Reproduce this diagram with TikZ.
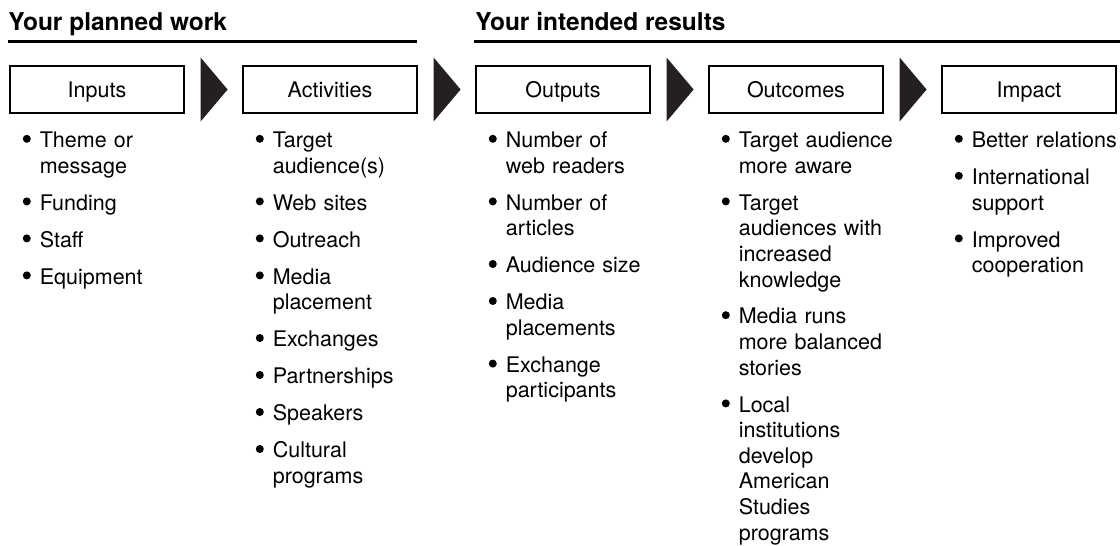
\documentclass[tikz,border=0pt]{standalone}
\usepackage{fontspec}
\setmainfont{TeX Gyre Heros}
\usetikzlibrary{calc}
\definecolor{ChevronClr}{rgb}{0.14,0.12,0.13}

\newcommand\bul[1]{\noindent\llap{\tikz[baseline=0pt]\fill (0pt,4.4pt) circle[radius=2pt];\hspace{4.5pt}}#1\par\vspace{5.7pt}}

\begin{document}
\begin{tikzpicture}[x=0.5pt,y=-0.5pt,
  stage/.style={draw,line width=0.6pt,minimum width=87pt,minimum height=23.5pt,
    inner sep=0pt,text height=7.7pt,text depth=0pt,font=\fontsize{10.75}{12.8}\selectfont},
  list/.style={anchor=base west,inner sep=0pt,text width=80pt,align=left,
    font=\fontsize{10.75}{12.8}\selectfont},
  head/.style={anchor=base west,inner sep=0pt,font=\fontsize{12.25}{14}\selectfont\bfseries},
  rule/.style={line width=1.5pt},
  chevron/.style={fill=ChevronClr}]
\useasboundingbox (0,0) rectangle (1120,546);

\node[head] (Work) at (8,31) {Your planned work};
\node[head] (Res) at (475,31) {Your intended results};
\coordinate (W1) at (8,41.5);   \coordinate (W2) at (417,41.5);
\coordinate (R1) at (474,41.5); \coordinate (R2) at (1120,41.5);
\draw[rule] (W1) -- (W2);
\draw[rule] (R1) -- (R2);

\node[stage] (In) at (97,89.5) {Inputs};
\node[stage] (Ac) at (330,89.5) {Activities};
\node[stage] (Op) at (563,89.5) {Outputs};
\node[stage] (Oc) at (796,89.5) {Outcomes};
\node[stage] (Im) at (1029,89.5) {Impact};

\fill[chevron] ($(In.east)+(16,-32)$) -- ($(In.east)+(16,32)$) -- ($(In.east)+(43,0)$) -- cycle;
\fill[chevron] ($(Ac.east)+(16,-32)$) -- ($(Ac.east)+(16,32)$) -- ($(Ac.east)+(43,0)$) -- cycle;
\fill[chevron] ($(Op.east)+(16,-32)$) -- ($(Op.east)+(16,32)$) -- ($(Op.east)+(43,0)$) -- cycle;
\fill[chevron] ($(Oc.east)+(16,-32)$) -- ($(Oc.east)+(16,32)$) -- ($(Oc.east)+(43,0)$) -- cycle;

\node[list] (InL) at ($(In.south west)+(30,34)$) {%
  \bul{Theme or\\message}
  \bul{Funding}
  \bul{Staff}
  \bul{Equipment}};
\node[list] (AcL) at ($(Ac.south west)+(30,34)$) {%
  \bul{Target\\audience(s)}
  \bul{Web sites}
  \bul{Outreach}
  \bul{Media\\placement}
  \bul{Exchanges}
  \bul{Partnerships}
  \bul{Speakers}
  \bul{Cultural\\programs}};
\node[list] (OpL) at ($(Op.south west)+(30,34)$) {%
  \bul{Number of\\web readers}
  \bul{Number of\\articles}
  \bul{Audience size}
  \bul{Media\\placements}
  \bul{Exchange\\participants}};
\node[list] (OcL) at ($(Oc.south west)+(30,34)$) {%
  \bul{Target audience\\more aware}
  \bul{Target\\audiences with\\increased\\knowledge}
  \bul{Media runs\\more balanced\\stories}
  \bul{Local\\institutions\\develop\\American\\Studies\\programs}};
\node[list] (ImL) at ($(Im.south west)+(30,34)$) {%
  \bul{Better relations}
  \bul{International\\support}
  \bul{Improved\\cooperation}};

\end{tikzpicture}
\end{document}
